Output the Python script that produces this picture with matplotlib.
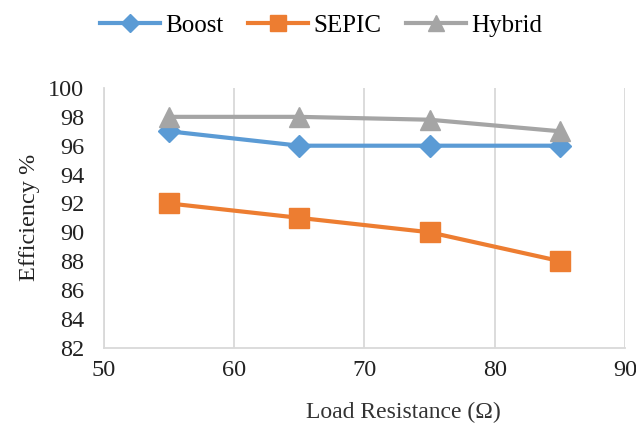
import matplotlib
matplotlib.use("Agg")
import matplotlib.pyplot as plt

x = [55, 65, 75, 85]
boost = [97, 96, 96, 96]
sepic = [92, 91, 90, 88]
hybrid = [98, 98, 97.8, 97]
xticks = [50, 60, 70, 80, 90]
yticks = list(range(82, 101, 2))

plt.rcParams['font.family'] = ['Liberation Serif', 'DejaVu Serif']

fig = plt.figure(figsize=(6.36, 4.23), dpi=100)
ax = fig.add_axes([0.163, 0.178, 0.820, 0.614])

l1, = ax.plot(x, boost, color='#5B9BD5', lw=3, marker='D', ms=11, label='Boost', zorder=3)
l2, = ax.plot(x, sepic, color='#ED7D31', lw=3, marker='s', ms=14, label='SEPIC', zorder=3)
l3, = ax.plot(x, hybrid, color='#A5A5A5', lw=3, marker='^', ms=14, label='Hybrid', zorder=3)

ax.set_xlim(50, 90)
ax.set_ylim(82, 100)
ax.set_xticks(xticks)
ax.set_yticks(yticks)
ax.grid(axis='x', color='#D9D9D9', lw=1.3)
ax.set_axisbelow(True)
for s in ['top', 'right']:
    ax.spines[s].set_visible(False)
for s in ['left', 'bottom']:
    ax.spines[s].set_color('#D9D9D9')
    ax.spines[s].set_linewidth(1.3)
ax.tick_params(length=0, labelsize=17.5, colors='#222222')
ax.tick_params(axis='y', pad=14)
ax.tick_params(axis='x', pad=9)
ax.set_ylabel('Efficiency %', fontsize=17.5, color='#222222', labelpad=6)
fig.text(0.634, 0.026, 'Load Resistance (Ω)', ha='center', va='center', fontsize=17, color='#333333')

fig.legend(handles=[l1, l2, l3], loc='center', bbox_to_anchor=(0.505, 0.94), ncol=3,
           frameon=False, fontsize=18, handlelength=2.4, columnspacing=1.0, handletextpad=0.2,
           markerscale=0.8)

fig.savefig('out.png', dpi=100)
